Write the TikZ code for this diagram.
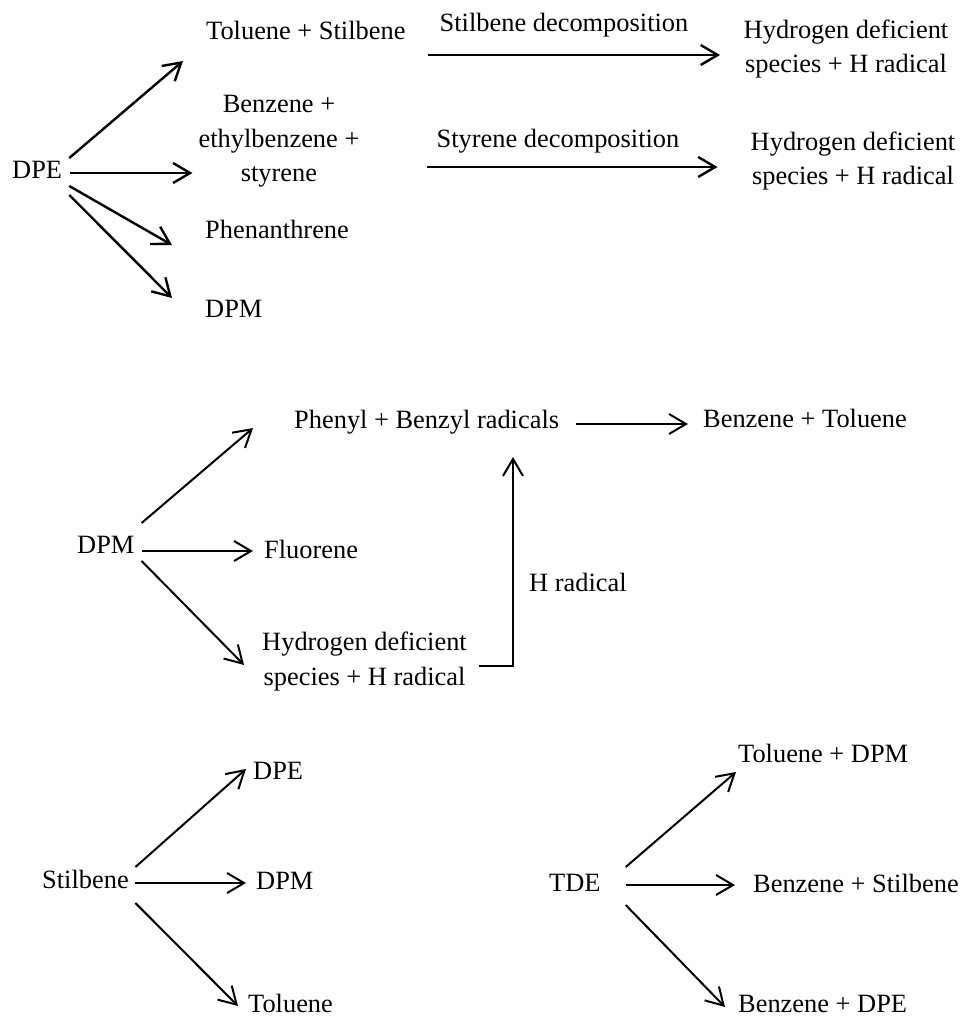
\documentclass[tikz,border=0pt]{standalone}
\usepackage{fontspec}
\setmainfont{Liberation Serif}
\usetikzlibrary{arrows.meta, calc}
\tikzset{
    ChemText/.style={font=\fontsize{26.4}{34.5}\selectfont, inner sep=0pt, anchor=base west},
    ChemBlock/.style={font=\fontsize{26.4}{34.5}\selectfont, inner sep=0pt, align=center},
    ReactArrow/.style={-{Straight Barb[length=17pt, width=20pt]}, line width=2pt},
    BoldArrow/.style={ReactArrow, line width=2.4pt}
}

\begin{document}
\begin{tikzpicture}[x=1pt, y=-1pt]
    \useasboundingbox (0,0) rectangle (962,1017);

    % DPE
    \node[ChemText] (dpe) at (12,178) {DPE};
    \node[ChemText] (ts) at (206,39) {Toluene + Stilbene};
    \node[ChemBlock] (bes) at (279,141.6) {Benzene +\\ethylbenzene +\\styrene};
    \node[ChemText] (phen) at (205,238) {Phenanthrene};
    \node[ChemText] (dpma) at (205,317) {DPM};
    \node[ChemText, anchor=base] (sd) at (564,31) {Stilbene decomposition};
    \node[ChemText, anchor=base] (yd) at (558,147) {Styrene decomposition};
    \node[ChemBlock] (hda) at (846,48.9) {Hydrogen deficient\\species + H radical};
    \node[ChemBlock] (hdb) at (853,161.1) {Hydrogen deficient\\species + H radical};

    \draw[BoldArrow] ([shift={(7,-20)}]dpe.base east) -- ([shift={(-23,22)}]ts.base west);
    \draw[BoldArrow] ([shift={(8,-5)}]dpe.base east) -- ([shift={(-6,31.4)}]bes.west);
    \draw[BoldArrow] ([shift={(7,8)}]dpe.base east) -- ([shift={(-33,7)}]phen.base west);
    \draw[BoldArrow] ([shift={(7,17)}]dpe.base east) -- ([shift={(-33,-19)}]dpma.base west);
    \draw[BoldArrow] ([shift={(22,16)}]ts.base east) -- ([shift={(-23.5,6.1)}]hda.west);
    \draw[BoldArrow] ([shift={(-131,20)}]yd.base) -- ([shift={(-33,5.9)}]hdb.west);

    % DPM
    \node[ChemText] (dpmb) at (77,553) {DPM};
    \node[ChemText] (pbr) at (294,428) {Phenyl + Benzyl radicals};
    \node[ChemText] (bt) at (703,427) {Benzene + Toluene};
    \node[ChemText] (flu) at (264,558) {Fluorene};
    \node[ChemBlock] (hdc) at (364.5,661.4) {Hydrogen deficient\\species + H radical};
    \node[ChemText] (hr) at (529,591) {H radical};

    \draw[ReactArrow] ([shift={(7,-30)}]dpmb.base east) -- ([shift={(-41,0)}]pbr.base west);
    \draw[ReactArrow] ([shift={(7,-2)}]dpmb.base east) -- ([shift={(-11,-7)}]flu.base west);
    \draw[ReactArrow] ([shift={(7,8)}]dpmb.base east) -- ([shift={(-18,3.6)}]hdc.west);
    \draw[ReactArrow] ([shift={(17,-4)}]pbr.base east) -- ([shift={(-15,-3)}]bt.base west);
    \draw[ReactArrow] ([shift={(12,4.6)}]hdc.east) -| ([shift={(219,29)}]pbr.base west);

    % Stilbene
    \node[ChemText] (stb) at (42,888) {Stilbene};
    \node[ChemText] (dpec) at (253,779) {DPE};
    \node[ChemText] (dpmc) at (256,889) {DPM};
    \node[ChemText] (tol) at (248,1012) {Toluene};

    \draw[ReactArrow] ([shift={(6.5,-21)}]stb.base east) -- ([shift={(-7,-10)}]dpec.base west);
    \draw[ReactArrow] ([shift={(6.5,-5)}]stb.base east) -- ([shift={(-10,-6)}]dpmc.base west);
    \draw[ReactArrow] ([shift={(6.5,15)}]stb.base east) -- ([shift={(-10,-6)}]tol.base west);

    % TDE
    \node[ChemText] (tde) at (549,891) {TDE};
    \node[ChemText] (td) at (738,762) {Toluene + DPM};
    \node[ChemText] (bs) at (753,892) {Benzene + Stilbene};
    \node[ChemText] (bd) at (738,1012) {Benzene + DPE};

    \draw[ReactArrow] ([shift={(25,-24)}]tde.base east) -- ([shift={(-2,10)}]td.base west);
    \draw[ReactArrow] ([shift={(25,-6)}]tde.base east) -- ([shift={(-18,-7)}]bs.base west);
    \draw[ReactArrow] ([shift={(25,14)}]tde.base east) -- ([shift={(-13,-5)}]bd.base west);
\end{tikzpicture}
\end{document}
